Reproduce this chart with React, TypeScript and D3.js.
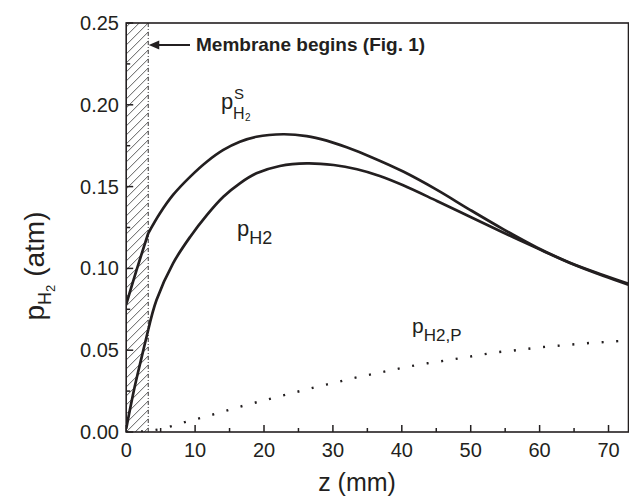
import React from "react";
import * as d3 from "d3";

// Axial position along the reactor (mm) and hydrogen partial pressures (atm)
const zSurface = [0, 1.5, 3.2, 4.9, 6.8, 9.3, 11.7, 14.1, 16.5, 18.9, 22.8, 26.2, 29.1, 32.0, 35.6, 40.2, 45.1, 49.9, 54.7, 59.6, 64.4, 69.2, 73];
const pSurface = [0.078, 0.099, 0.1215, 0.1337, 0.1449, 0.1561, 0.1652, 0.1724, 0.1774, 0.1805, 0.182, 0.1809, 0.1781, 0.174, 0.168, 0.1592, 0.148, 0.1358, 0.124, 0.1128, 0.1035, 0.096, 0.0905];

const zBulk = [0, 1.2, 2.2, 3.2, 4.4, 6.8, 9.3, 11.7, 14.1, 16.5, 18.9, 22.3, 26.2, 30.1, 33.5, 36.8, 40.2, 45.1, 49.9, 54.7, 59.6, 64.4, 69.2, 73];
const pBulk = [0.002, 0.027, 0.045, 0.0625, 0.0807, 0.1031, 0.1194, 0.1326, 0.1438, 0.152, 0.1581, 0.1626, 0.1642, 0.1632, 0.1606, 0.1565, 0.1508, 0.1412, 0.1316, 0.122, 0.1124, 0.1033, 0.0955, 0.0899];

const zPermeate = [0, 2.5, 4.7, 6.8, 8.9, 11.1, 13.2, 15.3, 17.4, 19.6, 21.7, 23.9, 26, 28.1, 30.3, 32.4, 34.6, 36.7, 38.8, 40.9, 43.1, 45.3, 47.4, 49.5, 51.6, 53.8, 56, 58, 60.2, 62.3, 64.5, 66.6, 68.8, 70.9, 73];
const pPermeate = [0, 0.0004, 0.0016, 0.0038, 0.0065, 0.0089, 0.0114, 0.014, 0.0165, 0.0189, 0.0212, 0.0236, 0.0258, 0.0281, 0.0301, 0.0324, 0.0344, 0.0362, 0.0381, 0.0399, 0.0416, 0.043, 0.0444, 0.0458, 0.0473, 0.0487, 0.0497, 0.0507, 0.0518, 0.0526, 0.0534, 0.0542, 0.0548, 0.0554, 0.056];

const membraneStart = 3.2;
const xTicks = [0, 10, 20, 30, 40, 50, 60, 70];
const xMinor = [5, 15, 25, 35, 45, 55, 65];
const yTicks = [0, 0.05, 0.1, 0.15, 0.2, 0.25];
const yMinor = [0.025, 0.075, 0.125, 0.175, 0.225];

const W = 629;
const H = 498;
const left = 126.2;
const right = 628.5;
const top = 23;
const bottom = 432;
const FONT = "Arial, 'Liberation Sans', Helvetica, sans-serif";
const INK = "#231f20";

type Pt = [number, number];

function zip(z: number[], p: number[]): Pt[] {
  return z.map((v, i) => [v, p[i]] as Pt);
}

export default function App() {
  const x = d3.scaleLinear().domain([0, 72.9]).range([left, right]);
  const y = d3.scaleLinear().domain([0, 0.25]).range([bottom, top]);

  const line = d3
    .line<Pt>()
    .x((d) => x(d[0]))
    .y((d) => y(d[1]))
    .curve(d3.curveCatmullRom.alpha(0.5));

  // split each solid profile at the membrane edge so the kink stays sharp
  const splitAtMembrane = (pts: Pt[]) => {
    const inner = pts.filter((d) => d[0] <= membraneStart + 1e-9);
    const outer = pts.filter((d) => d[0] >= inner[inner.length - 1][0] - 1e-9);
    return [inner, outer];
  };

  const surf = splitAtMembrane(zip(zSurface, pSurface));
  const bulk = splitAtMembrane(zip(zBulk, pBulk));
  const perm = zip(zPermeate, pPermeate);

  const xm = x(membraneStart);

  return (
    <svg
      width={W}
      height={H}
      style={{ position: "absolute", left: 0, top: 0, background: "#fff" }}
      fontFamily={FONT}
    >
      <defs>
        <pattern id="hatch" patternUnits="userSpaceOnUse" width={9} height={9} x={left} y={0}>
          <path d="M0,9 L9,0 M-2,2 L2,-2 M7,11 L11,7" stroke="#333" strokeWidth={0.8} />
        </pattern>
        <clipPath id="plot">
          <rect x={left} y={top} width={right - left} height={bottom - top} />
        </clipPath>
      </defs>

      {/* membrane zone */}
      <rect x={left} y={top} width={xm - left} height={bottom - top} fill="url(#hatch)" />
      <line
        x1={xm}
        x2={xm}
        y1={top}
        y2={bottom}
        stroke={INK}
        strokeWidth={0.9}
        strokeDasharray="4 2 1 2"
      />

      <g clipPath="url(#plot)">
        {[...surf, ...bulk].map((seg, i) => (
          <path key={i} d={line(seg) || ""} fill="none" stroke={INK} strokeWidth={2.7} strokeLinejoin="round" />
        ))}
        <path
          d={line(perm) || ""}
          fill="none"
          stroke={INK}
          strokeWidth={2.4}
          strokeDasharray="2 12.7"
        />
      </g>

      {/* frame */}
      <rect x={left} y={top} width={right - left} height={bottom - top} fill="none" stroke={INK} strokeWidth={1.6} />

      {/* x axis ticks */}
      {xTicks.map((t) => (
        <g key={"xt" + t}>
          <line x1={x(t)} x2={x(t)} y1={bottom} y2={bottom - 7} stroke={INK} strokeWidth={1.5} />
          <text x={x(t)} y={456.5} textAnchor="middle" fontSize={20} fill={INK}>
            {t}
          </text>
        </g>
      ))}
      {xMinor.map((t) => (
        <line key={"xm" + t} x1={x(t)} x2={x(t)} y1={bottom} y2={bottom - 4} stroke={INK} strokeWidth={1.5} />
      ))}

      {/* y axis ticks */}
      {yTicks.map((t) => (
        <g key={"yt" + t}>
          <line x1={left} x2={left + 7} y1={y(t)} y2={y(t)} stroke={INK} strokeWidth={1.5} />
          <text x={119} y={y(t) + 7} textAnchor="end" fontSize={20} fill={INK}>
            {t.toFixed(2)}
          </text>
        </g>
      ))}
      {yMinor.map((t) => (
        <line key={"ym" + t} x1={left} x2={left + 4} y1={y(t)} y2={y(t)} stroke={INK} strokeWidth={1.5} />
      ))}

      {/* axis titles */}
      <text x={357} y={491} textAnchor="middle" fontSize={25} fill={INK}>
        z (mm)
      </text>
      <text transform="translate(44,266) rotate(-90)" textAnchor="middle" fontSize={28} fill={INK}>
        p
        <tspan fontSize={18} dy={7}>H</tspan>
        <tspan fontSize={13} dy={4}>2</tspan>
        <tspan dy={-11}> (atm)</tspan>
      </text>

      {/* annotation */}
      <line x1={190} x2={xm + 8} y1={45} y2={45} stroke={INK} strokeWidth={2} />
      <path d={`M${xm + 0.5},45 L${xm + 11},40.5 L${xm + 11},49.5 Z`} fill={INK} />
      <text x={196} y={51} fontSize={19} fontWeight="bold" fill={INK}>
        Membrane begins (Fig. 1)
      </text>

      {/* curve labels */}
      <text x={221} y={109} fontSize={22} fill={INK}>
        p
      </text>
      <text x={234} y={99} fontSize={15} fill={INK}>
        S
      </text>
      <text x={233} y={119} fontSize={16} fill={INK}>
        H
      </text>
      <text x={245} y={121} fontSize={10} fill={INK}>
        2
      </text>

      <text x={237} y={236} fontSize={22} fill={INK}>
        p
        <tspan fontSize={18} dy={8}>H</tspan>
        <tspan fontSize={18}>2</tspan>
      </text>

      <text x={412} y={333} fontSize={21} fill={INK}>
        p
        <tspan fontSize={17} dy={8}>H</tspan>
        <tspan fontSize={17}>2</tspan>
        <tspan fontSize={17}>,P</tspan>
      </text>
    </svg>
  );
}
